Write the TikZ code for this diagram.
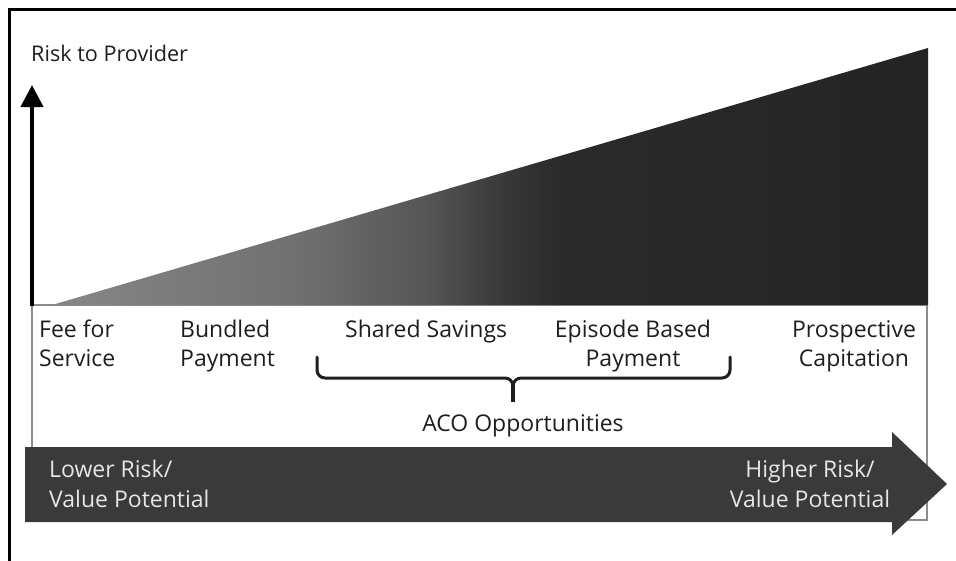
\documentclass[tikz,border=0pt]{standalone}
\usepackage{fontspec}
\setmainfont{Open Sans}
\usetikzlibrary{arrows.meta}
\definecolor{labelc}{HTML}{1E1E1E}
\definecolor{bandc}{HTML}{3A3A3A}
\definecolor{bandtext}{HTML}{E6E6E6}
\definecolor{boxline}{HTML}{8C8C8C}
\definecolor{w0}{HTML}{878787}
\definecolor{w1}{HTML}{828282}
\definecolor{w2}{HTML}{707070}
\definecolor{w3}{HTML}{555555}
\definecolor{w4}{HTML}{3A3A3A}
\definecolor{w5}{HTML}{2A2A2A}
\definecolor{w6}{HTML}{242424}
\pgfdeclarehorizontalshading{wedgeshade}{100bp}{color(0bp)=(w0); color(25bp)=(w0); color(28bp)=(w1); color(39bp)=(w2); color(46.5bp)=(w3); color(50.5bp)=(w4); color(54bp)=(w5); color(75bp)=(w6); color(100bp)=(w6)}
\begin{document}
\begin{tikzpicture}[x=1pt,y=-1pt,
  lbl/.style={font=\fontsize{23}{29}\selectfont, text=labelc, inner sep=0pt},
  bandtxt/.style={font=\fontsize{23}{30}\selectfont, text=bandtext, inner sep=0pt},
  frame/.style={line width=3pt, black},
  axisarrow/.style={line width=4pt, black, -{Triangle[width=22pt,length=22pt]}},
  bracestyle/.style={line width=3pt, labelc, line join=round, line cap=round}]
\useasboundingbox (0,0) rectangle (956,560);
\fill[white] (0,0) rectangle (956,560);
% outer frame (only left and top visible)
\draw[frame] (9,562) -- (9,9) -- (958,9);
% inner box
\draw[boxline, line width=1.5pt] (32,305) rectangle (927,520);
% wedge
\shade[shading=wedgeshade] (52,305) -- (928,48) -- (928,305) -- cycle;
% vertical axis
\coordinate (origin) at (32,306);
\coordinate (axtop) at (32,85);
\draw[axisarrow] (origin) -- (axtop);
\node[font=\fontsize{21.6}{26}\selectfont, text=labelc, inner sep=0pt, anchor=base west] (title) at (31,61) {Risk to Provider};
% labels
\node[lbl, align=left, anchor=north west] (fee) at (39,316.7) {\strut Fee for\\Service};
\node[lbl, align=left, anchor=north west] (bundled) at (180,316.7) {\strut Bundled\\Payment};
\node[lbl, anchor=base west] (shared) at (345,337) {Shared Savings};
\node[lbl, align=center, anchor=north] (episode) at (633,316.7) {\strut Episode Based\\Payment};
\node[lbl, align=center, anchor=north] (prosp) at (854,316.7) {\strut Prospective\\Capitation};
% brace
\coordinate (bl) at (317,357);
\coordinate (br) at (730,357);
\coordinate (bstem) at (513,402);
\draw[bracestyle] (bl) -- (317,370) to[out=-90,in=180] (325,378) -- (505,378) to[out=0,in=90] (513,386);
\draw[bracestyle] (513,386) to[out=90,in=180] (521,378) -- (722,378) to[out=0,in=-90] (730,370) -- (br);
\draw[bracestyle, line width=4.5pt, line cap=butt] (513,384) -- (bstem);
\node[lbl, anchor=base] (aco) at (523,431) {ACO Opportunities};
% band arrow
\fill[bandc] (25,447) -- (892,447) -- (892,432) -- (947,484) -- (892,535) -- (892,522) -- (25,522) -- cycle;
\node[bandtxt, align=left, anchor=north west] (lower) at (49,456.2) {\strut Lower Risk/\\Value Potential};
\node[bandtxt, align=center, anchor=north] (higher) at (810,456.2) {\strut Higher Risk/\\Value Potential};
\end{tikzpicture}
\end{document}
